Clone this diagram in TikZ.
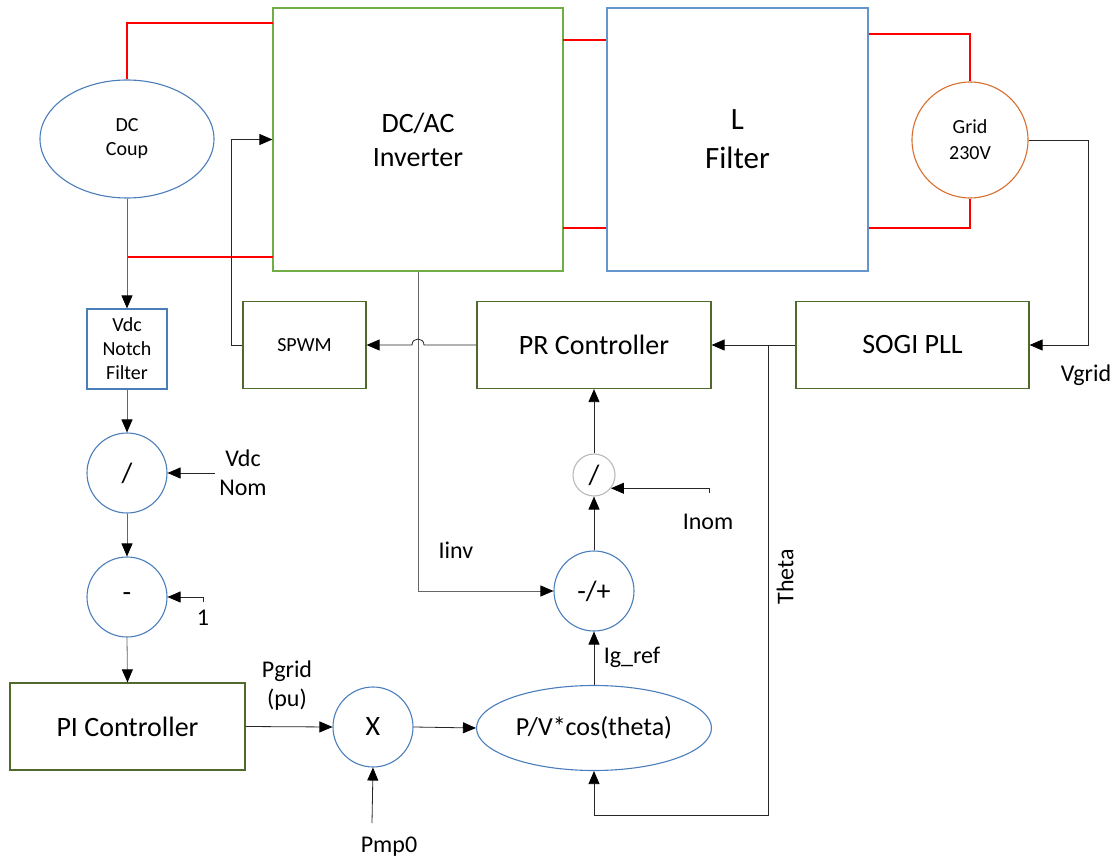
\documentclass[tikz,border=0pt]{standalone}
\usepackage{fontspec}
\setmainfont{Carlito}
\usetikzlibrary{arrows.meta,shapes.geometric}
\definecolor{pvgreen}{RGB}{112,173,71}
\definecolor{pvolive}{RGB}{80,105,45}
\definecolor{pvblue}{RGB}{74,126,187}
\definecolor{pvfilter}{RGB}{100,150,205}
\definecolor{pvorange}{RGB}{215,110,45}
\definecolor{pvred}{RGB}{255,0,0}
\newcommand{\fsz}[2]{\fontsize{#1}{#2}\selectfont}

\begin{document}
\begin{tikzpicture}[x=1pt,y=-1pt,
    blk/.style={draw,line width=1.2pt,inner sep=0pt,align=center},
    sig/.style={draw=pvblue,line width=1.1pt,inner sep=0pt,align=center},
    wire/.style={line width=0.8pt,black!85},
    arr/.style={wire,-{Triangle[length=13pt,width=11pt,fill=black,color=black]}},
    pow/.style={pvred,line width=1.3pt},
    lbl/.style={inner sep=0pt,align=center,font=\fsz{24}{29}}]
    \useasboundingbox (0,0) rectangle (1117,861);
    % power stage
    \node[sig,ellipse,minimum width=174,minimum height=118,font=\fsz{20}{24}] (coup) at (127,139) {DC\\Coup};
    \node[blk,draw=pvgreen,minimum width=290,minimum height=263,font=\fsz{28}{34}] (inv) at (418,139.5) {DC/AC\\Inverter};
    \node[blk,draw=pvfilter,minimum width=261,minimum height=263,font=\fsz{31}{39}] (filt) at (737.5,139.5) {L\\Filter};
    \node[sig,circle,draw=pvorange,minimum size=116,font=\fsz{20}{26}] (grid) at (970,140) {Grid\\230V};
    \coordinate (dcp) at (273,23);
    \coordinate (dcn) at (273,257);
    \coordinate (acp) at (563,40);
    \coordinate (acn) at (563,228);
    \coordinate (gp) at (970,34);
    \coordinate (gn) at (970,228);
    \draw[pow] (coup.north) |- (dcp);
    \draw[pow] (coup.south |- dcn) -- (dcn);
    \draw[pow] (acp) -- (filt.west |- acp);
    \draw[pow] (acn) -- (filt.west |- acn);
    \draw[pow] (filt.east |- gp) -| (grid.north);
    \draw[pow] (filt.east |- gn) -| (grid.south);
    % control blocks
    \node[blk,draw=pvolive,minimum width=123,minimum height=87,font=\fsz{20}{24}] (spwm) at (304.5,345) {SPWM};
    \node[blk,draw=pvolive,minimum width=234,minimum height=87,font=\fsz{28}{34}] (pr) at (594,345) {PR Controller};
    \node[blk,draw=pvolive,minimum width=233,minimum height=87,font=\fsz{28}{34}] (sogi) at (912.5,345) {SOGI PLL};
    \node[blk,draw=pvblue,minimum width=80,minimum height=80,font=\fsz{20}{24}] (notch) at (127,349) {Vdc\\Notch\\Filter};
    \node[sig,circle,minimum size=80,font=\fsz{28}{34}] (divv) at (127,473) {/};
    \node[sig,circle,minimum size=80,font=\fsz{28}{34}] (sub1) at (127,597) {-};
    \node[blk,draw=pvolive,minimum width=235,minimum height=87,font=\fsz{28}{34}] (pi) at (127.5,726.5) {PI Controller};
    \node[sig,circle,minimum size=80,font=\fsz{28}{34}] (mult) at (373,727) {X};
    \node[sig,ellipse,minimum width=235,minimum height=85,font=\fsz{26}{32}] (calc) at (594,728) {P/V*cos(theta)};
    \node[sig,circle,minimum size=80,font=\fsz{28}{34}] (err) at (594,591) {-/+};
    \node[sig,circle,draw=gray!55,minimum size=42,font=\fsz{28}{34}] (divi) at (594,475) {/};
    % signal paths
    \coordinate (vnom) at (215,473);
    \coordinate (one) at (203,602);
    \coordinate (pmp) at (372,823);
    \coordinate (inom) at (709,493);
    \coordinate (hopr) at (424,345);
    \coordinate (hopl) at (412,345);
    \coordinate (gv) at (1088,140);
    \coordinate (thj) at (768,345);
    \coordinate (thb) at (768,815);
    \draw[arr,black!60] (coup.south) -- (notch.north);
    \draw[arr,black!60] (notch.south) -- (divv.north);
    \draw[arr] (vnom) -- (divv.east);
    \draw[arr,black!60] (divv.south) -- (sub1.north);
    \draw[arr] (one) |- (sub1.east);
    \draw[arr,black!60] (sub1.south) -- (pi.north);
    \draw[arr] (pi.east) -- (mult.west);
    \draw[arr] (pmp) -- (mult.south);
    \draw[arr] (mult.east) -- (calc.west);
    \draw[arr] (calc.north) -- (err.south);
    \draw[arr] (err.north) -- (divi.south);
    \draw[arr] (divi.north) -- (pr.south);
    \draw[arr] (inom) |- (divi.-38);
    \draw[arr,black!60] (inv.south) |- (err.west);
    \draw[arr] (pr.west) -- (hopr) .. controls +(0,-8) and +(0,-8) .. (hopl) -- (spwm.east);
    \draw[arr] (spwm.west) -- ++(-11,0) |- (inv.west);
    \draw[arr] (grid.east) -- (gv) |- (sogi.east);
    \draw[arr] (sogi.west) -- (pr.east);
    \draw[arr] (thj) -- (thb) -| (calc.south);
    % labels
    \node[lbl] (lvdcnom) at (243,473) {Vdc\\Nom};
    \node[lbl] (lone) at (203,618) {1};
    \node[lbl] (lpgrid) at (287,686) {Pgrid\\(pu)};
    \node[lbl] (lpmp) at (389,847) {Pmp0};
    \node[lbl] (ligref) at (632,657) {Ig\_ref};
    \node[lbl] (liinv) at (456,550) {Iinv};
    \node[lbl] (linom) at (708,522) {Inom};
    \node[lbl,rotate=90] (ltheta) at (785,577) {Theta};
    \node[lbl] (lvgrid) at (1086,375) {Vgrid};
  \end{tikzpicture}
\end{document}
